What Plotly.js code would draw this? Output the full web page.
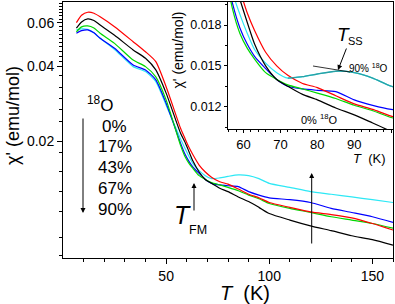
<!DOCTYPE html>
<html><head><meta charset="utf-8">
<script src="https://cdn.plot.ly/plotly-3.0.1.min.js"></script>
<style>html,body{margin:0;padding:0;background:#fff}#chart{width:395px;height:304px}</style>
</head><body><div id="chart"></div>
<script>
// Temperature (K)
const temperature = [6.5, 9, 12, 15, 18, 25, 34, 40, 45, 50, 57, 59, 61, 63, 66, 69, 72, 76, 80, 85, 90, 95, 100, 110, 120, 130, 140, 150, 160];
// chi' (emu/mol) for each 18O content
const chi_0pct  = [0.0570, 0.0604, 0.0621, 0.0612, 0.0587, 0.0534, 0.0466, 0.0431, 0.0387, 0.0312, 0.0215, 0.0199, 0.0182, 0.0166, 0.0150, 0.0140, 0.0135, 0.0129, 0.0125, 0.0119, 0.0114, 0.0108, 0.0102, 0.0096, 0.0091, 0.0087, 0.0083, 0.0080, 0.0076];
const chi_17pct = [0.0600, 0.0643, 0.0661, 0.0655, 0.0634, 0.0578, 0.0503, 0.0458, 0.0418, 0.0331, 0.0225, 0.0206, 0.0189, 0.0176, 0.0160, 0.0150, 0.0143, 0.0137, 0.0134, 0.0128, 0.0122, 0.0118, 0.0113, 0.0108, 0.01035, 0.0101, 0.0098, 0.0093, 0.00875];
const chi_43pct = [0.0551, 0.0577, 0.0582, 0.0571, 0.0544, 0.0495, 0.0424, 0.0399, 0.0363, 0.0293, 0.0192, 0.0174, 0.0163, 0.0155, 0.0145, 0.0140, 0.0136, 0.0133, 0.0130, 0.0126, 0.0121, 0.0117, 0.0112, 0.0107, 0.0103, 0.0099, 0.0096, 0.0093, 0.0089];
const chi_67pct = [0.0544, 0.0557, 0.0561, 0.0546, 0.0519, 0.0473, 0.0405, 0.0387, 0.0353, 0.0284, 0.0196, 0.0178, 0.0166, 0.0157, 0.0148, 0.0140, 0.0135, 0.0133, 0.0132, 0.0131, 0.0125, 0.0121, 0.0118, 0.0116, 0.0113, 0.0107, 0.0103, 0.0099, 0.0094];
const chi_90pct = [0.0561, 0.0566, 0.0564, 0.0546, 0.0519, 0.0468, 0.0399, 0.0381, 0.0347, 0.0279, 0.0204, 0.0188, 0.0174, 0.0162, 0.0152, 0.0145, 0.0141, 0.0142, 0.0144, 0.0146, 0.0145, 0.0141, 0.0135, 0.0130, 0.0125, 0.0122, 0.0119, 0.0116, 0.0113];

const seriesNames = ['90%', '67%', '43%', '0%', '17%'];
const seriesData = [chi_90pct, chi_67pct, chi_43pct, chi_0pct, chi_17pct];
const seriesColors = ['#2de8f5', '#0000ff', '#00d800', '#000000', '#ff0000'];

const mainXTicks = [50, 100, 150];
const mainXMinor = [10, 20, 30, 40, 60, 70, 80, 90, 110, 120, 130, 140, 160];
const mainYTicks = [0.02, 0.04, 0.06];
const mainYTickText = ['0.02', '0.04', '0.06'];
const mainYMinor = [0.0069, 0.0082, 0.0104, 0.0125, 0.015, 0.018, 0.0239, 0.0267, 0.0296, 0.033, 0.0366, 0.042, 0.044, 0.046, 0.048, 0.05, 0.052, 0.054, 0.056, 0.058, 0.062, 0.064, 0.066, 0.068, 0.07, 0.072];
const insetXTicks = [60, 70, 80, 90, 100];
const insetYTicks = [0.012, 0.015, 0.018];
const insetYTickText = ['0.012', '0.015', '0.018'];

const FONT = 'Arial, "Liberation Sans", sans-serif';
const traces = [];
seriesData.forEach((d, i) => {
  traces.push({x: temperature, y: d, type: 'scatter', mode: 'lines', name: seriesNames[i],
    line: {color: seriesColors[i], width: 1.2, shape: 'spline', smoothing: 0.6},
    xaxis: 'x', yaxis: 'y', hoverinfo: 'skip'});
});
seriesData.forEach((d, i) => {
  traces.push({x: temperature, y: d, type: 'scatter', mode: 'lines', name: seriesNames[i] + ' inset',
    line: {color: seriesColors[i], width: 1.2, shape: 'spline', smoothing: 0.6},
    xaxis: 'x2', yaxis: 'y2', hoverinfo: 'skip'});
});
// teal overlay of the 90% curve in the inset above T = 72 K
const tealT = temperature.filter(t => t >= 72);
const tealV = chi_90pct.filter((v, k) => temperature[k] >= 72);
traces.push({x: tealT, y: tealV, type: 'scatter', mode: 'lines', line: {color: '#2aa0a4', width: 1.3, shape: 'spline', smoothing: 0.6},
  xaxis: 'x2', yaxis: 'y2', hoverinfo: 'skip'});

// pixel -> paper helpers for annotations
const PL = 63, PW = 330, PB = 258, PH = 256;
const px = v => (v - PL) / PW;
const py = v => (PB - v) / PH;

function txt(text, x, y, size, opts) {
  return Object.assign({text: text, x: px(x), y: py(y), xref: 'paper', yref: 'paper', showarrow: false,
    xanchor: 'center', yanchor: 'middle', borderpad: 0, font: {family: FONT, size: size, color: '#000'}}, opts || {});
}
function arrow(hx, hy, tx, ty) {
  return {text: '', x: px(hx), y: py(hy), xref: 'paper', yref: 'paper', showarrow: true,
    ax: tx - hx, ay: ty - hy, arrowhead: 2, arrowsize: 1, arrowwidth: 1, arrowcolor: '#000'};
}

const annotations = [
  txt('<sup>18</sup>O', 100, 104, 17),
  txt('0%', 114, 126, 17),
  txt('17%', 115, 146.5, 17),
  txt('43%', 115, 167.5, 17),
  txt('67%', 115, 188.5, 17),
  txt('90%', 115, 209, 17),
  arrow(83, 213, 83, 117),
  txt('<i>T</i>', 182, 215, 25),
  txt('FM', 198, 230, 12.5),
  arrow(194, 183, 194, 212),
  arrow(311.7, 173, 311.7, 245),
  txt('<i>T</i>', 343, 34, 19),
  txt('SS', 355.5, 41, 11),
  arrow(338, 70, 347, 47),
  txt('90% <sup>18</sup>O', 348, 67.5, 10, {xanchor: 'left'}),
  txt('0% <sup>18</sup>O', 300, 119, 11, {xanchor: 'left'}),
  txt('<i>T</i>\u00a0\u00a0(K)', 245, 292.5, 20),
  txt('<i>T</i>\u00a0\u00a0(K)', 369, 158.5, 13),
  txt("\u03c7' (emu/mol)", 13, 116, 18, {textangle: -90}),
  txt("\u03c7' (emu/mol)", 177.5, 50, 14, {textangle: -90})
];

const shapes = [
  {type: 'line', xref: 'paper', yref: 'paper', x0: px(313), y0: py(66), x1: px(350), y1: py(72), line: {color: '#000', width: 0.8}}
];

const axisBase = {showgrid: false, zeroline: false, showline: true, linecolor: '#000', linewidth: 1,
  ticks: 'outside', tickcolor: '#000', tickwidth: 1, mirror: true};

const layout = {
  width: 395, height: 304,
  margin: {l: PL, r: 2, t: 2, b: 46, pad: 0},
  paper_bgcolor: '#fff', plot_bgcolor: '#fff',
  showlegend: false,
  font: {family: FONT, color: '#000'},
  xaxis: Object.assign({}, axisBase, {domain: [0, 1], anchor: 'y', range: [0, 160],
    tickmode: 'array', tickvals: mainXTicks, ticklen: 5, tickfont: {size: 14},
    minor: {tickmode: 'array', tickvals: mainXMinor, ticks: 'outside', ticklen: 3, tickcolor: '#000', tickwidth: 1}}),
  yaxis: Object.assign({}, axisBase, {domain: [0, 1], anchor: 'x', type: 'log',
    range: [Math.log10(0.00675), Math.log10(0.0727)],
    tickmode: 'array', tickvals: mainYTicks, ticktext: mainYTickText, ticklen: 5, tickfont: {size: 14},
    minor: {tickmode: 'array', tickvals: mainYMinor, ticks: 'outside', ticklen: 3, tickcolor: '#000', tickwidth: 1}}),
  xaxis2: Object.assign({}, axisBase, {domain: [0.5, 1], anchor: 'y2', range: [55.8, 100.5],
    tickmode: 'array', tickvals: insetXTicks, ticklen: 3, tickfont: {size: 13},
    minor: {dtick: 2, tick0: 0, ticks: 'outside', ticklen: 2, tickcolor: '#000', tickwidth: 1}}),
  yaxis2: Object.assign({}, axisBase, {domain: [0.504, 1], anchor: 'x2', range: [0.01036, 0.01969],
    tickmode: 'array', tickvals: insetYTicks, ticktext: insetYTickText, ticklen: 3, tickfont: {size: 12.5},
    minor: {tickmode: 'array', tickvals: [0.0105, 0.0135, 0.0165, 0.0195], ticks: 'outside', ticklen: 2, tickcolor: '#000', tickwidth: 1}}),
  annotations: annotations,
  shapes: shapes
};

Plotly.newPlot('chart', traces, layout, {staticPlot: true, displayModeBar: false});
</script>
</body></html>
